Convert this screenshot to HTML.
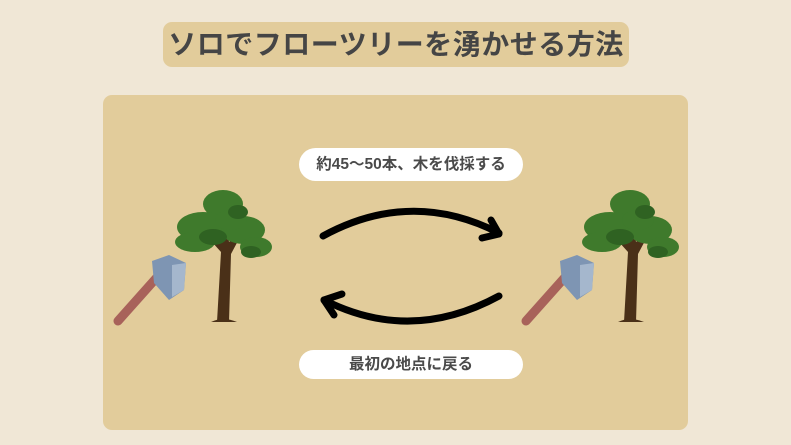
<!DOCTYPE html>
<html><head><meta charset="utf-8"><style>
body{margin:0;width:791px;height:445px;background:#f0e7d6;position:relative;overflow:hidden;font-family:"Liberation Sans","Noto Sans CJK JP",sans-serif}
.title{position:absolute;left:163px;top:22px;width:466px;height:45px;background:#e2cc9b;border-radius:9px;font-size:28px;font-weight:bold;color:#454545;text-align:center;line-height:45px;letter-spacing:0.5px}
.panel{position:absolute;left:103px;top:95px;width:585px;height:335px;background:#e2cc9b;border-radius:9px}
.pill{position:absolute;left:299px;width:224px;background:#fff;border-radius:17px;text-align:center;font-weight:bold;color:#4a4a4a;font-size:15.5px}
</style></head><body>
<div class="title">ソロでフローツリーを湧かせる方法</div>
<div class="panel"></div>
<div class="pill" style="top:148px;height:33px;line-height:33px">約45〜50本、木を伐採する</div>
<div class="pill" style="top:350px;height:29px;line-height:29px">最初の地点に戻る</div>
<svg width="791" height="445" style="position:absolute;left:0;top:0">
<g fill="none" stroke="#000" stroke-width="7" stroke-linecap="round" stroke-linejoin="round">
<path d="M323 236 Q411 188 499 233"/><path d="M491 220 L499 234 L482 238"/>
<path d="M499 296 Q411 344 324 300"/><path d="M342 294 L324 300 L334 315"/>
</g>
<defs><g id="t">
<path d="M-6 130 L-2 60 L-20 40 L-1 50 L2 20 L6 50 L25 30 L8 62 L6 130 Z" fill="#4a3018"/>
<path d="M-12 130 Q0 124 14 130 Z" fill="#4a3018"/>
<g fill="#3f7a2c">
<ellipse cx="0" cy="12" rx="20" ry="14"/><ellipse cx="-20" cy="35" rx="26" ry="15"/><ellipse cx="20" cy="38" rx="22" ry="14"/>
<ellipse cx="-28" cy="50" rx="20" ry="10"/><ellipse cx="33" cy="55" rx="16" ry="10"/><ellipse cx="8" cy="28" rx="16" ry="10"/>
</g>
<g fill="#2f6222"><ellipse cx="-10" cy="45" rx="14" ry="8"/><ellipse cx="15" cy="20" rx="10" ry="7"/><ellipse cx="28" cy="60" rx="10" ry="6"/></g>
</g>
<g id="a">
<path d="M4 126 L45 80" stroke="#a8625a" stroke-width="9" stroke-linecap="round"/>
<path d="M38 66 L55 60 L72 68 L70 95 L55 105 L40 88 Z" fill="#7e95b3"/>
<path d="M58 70 L72 68 L70 95 L58 102 Z" fill="#a5b7cd"/>
</g></defs>
<use href="#t" transform="translate(223,192)"/>
<use href="#a" transform="translate(114,195)"/>
<use href="#t" transform="translate(630,192)"/>
<use href="#a" transform="translate(522,195)"/>
</svg>
</body></html>
